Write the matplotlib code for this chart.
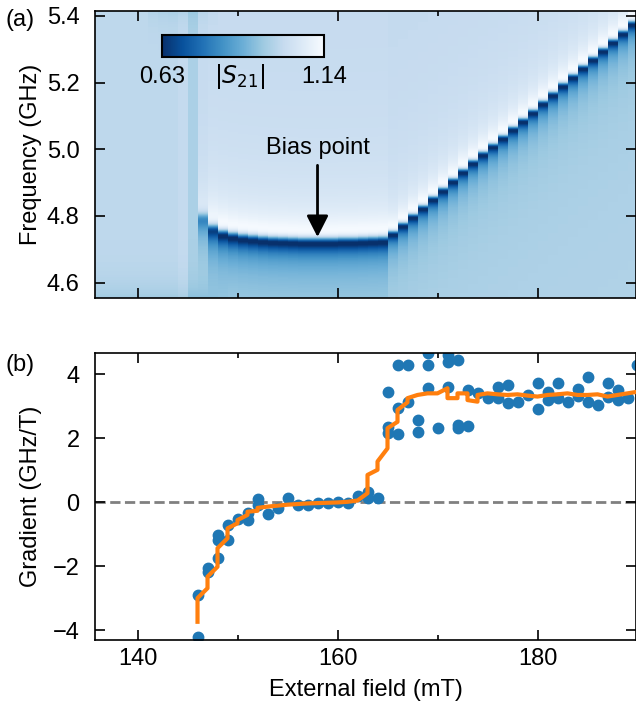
import numpy as np
import matplotlib.pyplot as plt
from matplotlib.ticker import MultipleLocator

plt.rcParams['font.family'] = ['Liberation Sans', 'DejaVu Sans']
plt.rcParams['font.size'] = 17

nan = np.nan

# ---- panel (a): transmission map, one column per mT ----
field_edges = np.arange(135, 191, 1)          # column edges (mT)
# dip frequency of the mode in each column (GHz), nan = no mode visible
res_freq = [nan, nan, nan, nan, nan, nan, nan, nan, nan, nan,
            nan, 4.782, 4.752, 4.739, 4.732, 4.727, 4.724, 4.721, 4.719, 4.718,
            4.717, 4.716, 4.716, 4.716, 4.716, 4.717, 4.717, 4.718, 4.719, 4.720,
            4.742, 4.767, 4.793, 4.819, 4.846, 4.872, 4.900, 4.928, 4.955, 4.980,
            5.005, 5.030, 5.056, 5.081, 5.107, 5.134, 5.160, 5.187, 5.213, 5.240,
            5.266, 5.292, 5.318, 5.344, 5.372]
# coupling depth of the dip per column
res_depth = [0, 0, 0, 0, 0, 0, 0, 0, 0, 0,
             0, 0.26, 0.45, 0.51, 0.51, 0.51, 0.51, 0.51, 0.51, 0.51,
             0.51, 0.51, 0.51, 0.51, 0.51, 0.51, 0.51, 0.51, 0.51, 0.51,
             0.51, 0.51, 0.51, 0.51, 0.51, 0.51, 0.51, 0.51, 0.51, 0.51,
             0.51, 0.51, 0.51, 0.51, 0.51, 0.51, 0.51, 0.51, 0.51, 0.51,
             0.51, 0.51, 0.51, 0.51, 0.51]
# linewidth per column (GHz)
res_width = [0.03] * 11 + [0.05, 0.045] + [0.04] * 17 + [0.028] * 25
# overall column offset
col_offset = [0, 0, 0, 0, 0, 0, 0, 0, 0, 0.01, -0.03] + [0] * 44
# darker band near the bottom edge on the left
low_shade = [0.05] * 12 + [0.02, 0.01] + [0] * 41
# faint darker patch along the top edge
top_shade = [0] * 6 + [0.02, 0.03, 0.035, 0.035, 0.03, 0.02, 0.01] + [0] * 42

# ---- panel (b): gradient ----
grad_field = [146, 146, 147, 147, 148, 148, 148, 149, 149, 150, 151, 151,
              152, 152, 153, 154, 155, 156, 157, 158, 159, 160, 161, 162,
              163, 163, 164, 165, 165, 165, 166, 166, 166, 167, 167, 168,
              168, 169, 169, 169, 170, 171, 171, 171, 172, 172, 172, 173,
              173, 174, 175, 176, 176, 177, 177, 178, 179, 180, 180, 181,
              181, 182, 182, 183, 184, 184, 185, 185, 186, 187, 187, 188,
              188, 189, 190]
grad_vals = [-4.2, -2.89, -2.06, -2.16, -1.74, -1.02, -1.17, -0.70, -1.17, -0.52, -0.33, -0.55,
             0.11, -0.08, -0.36, -0.17, 0.14, -0.08, -0.08, -0.02, -0.02, 0.02, -0.02, 0.21,
             0.34, 0.13, 0.13, 3.44, 2.37, 2.16, 4.30, 2.94, 2.13, 4.30, 3.15, 2.58,
             2.21, 4.66, 4.30, 3.57, 2.32, 4.61, 4.40, 3.62, 4.45, 2.42, 2.33, 2.40,
             3.52, 3.41, 3.26, 3.62, 3.26, 3.67, 3.10, 3.15, 3.36, 3.74, 2.91, 3.46,
             3.20, 3.72, 3.26, 3.15, 3.55, 3.33, 3.93, 3.15, 3.05, 3.72, 3.31, 3.52,
             3.20, 3.26, 4.30]
trend_field = [146, 146, 147, 147, 148, 148, 149, 149, 150, 150, 151, 151,
               152, 152, 153, 154, 155, 156, 157, 158, 159, 160, 161, 162,
               163, 163, 164, 164, 165, 165, 166, 166, 167, 167, 168, 169,
               170, 171, 171, 172, 172, 173, 173, 174, 174, 175, 176, 177,
               178, 179, 180, 181, 182, 183, 184, 185, 186, 187, 188, 189, 190]
trend_vals = [-3.73, -2.99, -2.68, -2.32, -2.01, -1.43, -1.12, -0.81, -0.65, -0.55, -0.39, -0.29,
              -0.26, -0.17, -0.13, -0.10, -0.07, -0.05, -0.03, -0.02, -0.01, 0.0, 0.02, 0.06,
              0.29, 0.86, 1.02, 1.28, 1.69, 2.32, 2.52, 2.89, 3.13, 3.26, 3.36, 3.41,
              3.41, 3.57, 3.26, 3.26, 3.41, 3.41, 3.20, 3.15, 3.36, 3.41, 3.38, 3.36,
              3.38, 3.34, 3.31, 3.36, 3.38, 3.41, 3.36, 3.36, 3.38, 3.31, 3.36, 3.41, 3.46]


def build_map(freq):
    phase = np.deg2rad(-56)
    img = np.empty((freq.size, len(res_freq)))
    for j in range(len(res_freq)):
        col = (1.0 + col_offset[j]
               - low_shade[j] * np.exp(-(freq - 4.55) / 0.05)
               - top_shade[j] * np.exp(-(5.42 - freq) / 0.04))
        f0, k, w = res_freq[j], res_depth[j], res_width[j]
        if not np.isnan(f0):
            d = freq - (f0 + 0.35 * w)
            resp = np.abs(1 - k * np.exp(1j * phase) / (1 + 2j * d / w))
            # slightly darker on the low-frequency side of the mode
            col = col * resp + 0.0075 * (k / 0.51) * (np.tanh(d / 0.12) - 1)
        img[:, j] = col
    return img


def main():
    fig = plt.figure(figsize=(6.36, 7.09), dpi=100)
    ax1 = fig.add_axes([0.1494, 0.5797, 0.8506, 0.4048])
    ax2 = fig.add_axes([0.1494, 0.0973, 0.8506, 0.4052])

    freq_edges = np.linspace(4.50, 5.45, 952)
    freq = 0.5 * (freq_edges[1:] + freq_edges[:-1])
    img = build_map(freq)
    mesh = ax1.pcolormesh(field_edges, freq_edges, img, cmap='Blues_r',
                          vmin=0.63, vmax=1.14, shading='flat', rasterized=True)
    ax1.set_ylim(4.554, 5.415)
    ax1.set_yticks([4.6, 4.8, 5.0, 5.2, 5.4])
    ax1.set_ylabel('Frequency (GHz)')
    ax1.tick_params(labelbottom=False)

    ax1.text(158, 5.003, 'Bias point', ha='center', va='center')
    ax1.annotate('', xy=(158, 4.737), xytext=(158, 4.952),
                 arrowprops=dict(arrowstyle='-|>,head_length=0.65,head_width=0.33',
                                 mutation_scale=20, lw=2, color='k',
                                 shrinkA=0, shrinkB=0))

    # colour bar inset
    cax = fig.add_axes([0.2547, 0.9192, 0.2547, 0.0315])
    cb = fig.colorbar(mesh, cax=cax, orientation='horizontal')
    cb.set_ticks([])
    cax.minorticks_off()
    cax.tick_params(which='both', length=0)
    cb.outline.set_linewidth(1.5)
    cax.text(0.0, -1.15, '0.63', ha='center', va='baseline', transform=cax.transAxes)
    cax.text(0.48, -1.15, r'$|S_{21}|$', ha='center', va='baseline', transform=cax.transAxes)
    cax.text(1.0, -1.15, '1.14', ha='center', va='baseline', transform=cax.transAxes)

    # gradient panel
    ax2.axhline(0, color='gray', ls='--', lw=2, zorder=1)
    ax2.plot(grad_field, grad_vals, 'o', ms=7.5, color='#1f77b4', zorder=2)
    ax2.plot(trend_field, trend_vals, color='#ff7f0e', lw=3, zorder=3)
    ax2.set_ylim(-4.3, 4.68)
    ax2.set_yticks([-4, -2, 0, 2, 4])
    ax2.set_ylabel('Gradient (GHz/T)')
    ax2.set_xlabel('External field (mT)')
    ax2.xaxis.set_label_coords(0.5, -0.135)

    for ax in (ax1, ax2):
        ax.set_xlim(135.75, 189.85)
        ax.xaxis.set_major_locator(MultipleLocator(20))
        ax.xaxis.set_minor_locator(MultipleLocator(10))
        ax.tick_params(which='both', direction='in', top=True, right=True,
                       width=1.2, labelsize=17)
        ax.tick_params(which='major', length=7)
        ax.tick_params(which='minor', length=3.5)
        ax.tick_params(axis='y', pad=11)
        ax.tick_params(axis='x', pad=6)
        ax.yaxis.set_label_coords(-0.098, 0.5)
        for sp in ax.spines.values():
            sp.set_linewidth(1.2)

    fig.text(0.008, 0.972, '(a)', va='center')
    fig.text(0.008, 0.485, '(b)', va='center')

    fig.savefig('out.png', dpi=100)


if __name__ == "__main__":
    main()
